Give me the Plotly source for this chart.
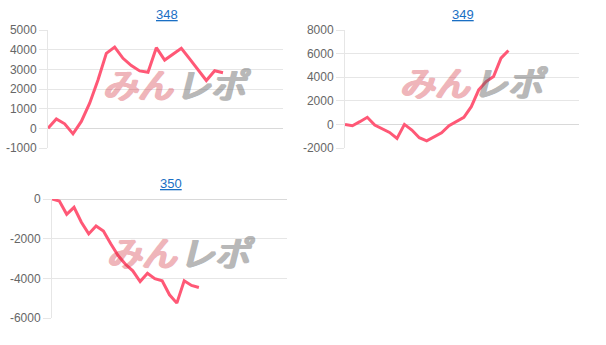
import plotly.graph_objects as go

W, H = 606, 345

titles = ["348", "349", "350"]

vals_348 = [0, 480, 230, -280, 350, 1280, 2460, 3810, 4130, 3560, 3190, 2920, 2850,
            4100, 3470, 3760, 4070, 3530, 2970, 2430, 2930, 2830]
vals_349 = [0, -110, 230, 600, -60, -340, -680, -1190, 0, -480, -1130, -1390, -1050,
            -710, -110, 230, 600, 1500, 2920, 3630, 4050, 5610, 6260]
vals_350 = [0, -100, -770, -420, -1170, -1760, -1360, -1610, -2260, -2850, -3290,
            -3620, -4160, -3740, -4020, -4120, -4830, -5250, -4120, -4360, -4460]

y_ticks_348 = [-1000, 0, 1000, 2000, 3000, 4000, 5000]
y_ticks_349 = [-2000, 0, 2000, 4000, 6000, 8000]
y_ticks_350 = [-6000, -4000, -2000, 0]

LINE = "rgb(255,88,118)"
GRID = "#e6e6e6"
TICKC = "#666666"
FONT = "Liberation Sans, Arial, sans-serif"

# pixel boxes (left, right, top, bottom)
boxes = [(48, 283, 30, 148), (345, 579, 30, 148), (52, 287, 199, 318)]
xmax = [28.2, 31.5, 32.0]
series = [vals_348, vals_349, vals_350]
ticks = [y_ticks_348, y_ticks_349, y_ticks_350]

fig = go.Figure()
annotations = []
for i, (vals, tk, (l, r, t, b), xm, title) in enumerate(zip(series, ticks, boxes, xmax, titles)):
    n = "" if i == 0 else str(i + 1)
    fig.add_trace(go.Scatter(
        x=list(range(len(vals))), y=vals, mode="lines",
        line=dict(color=LINE, width=3), xaxis="x" + n, yaxis="y" + n,
        hoverinfo="skip", showlegend=False))
    xd = [l / W, r / W]
    yd = [1 - b / H, 1 - t / H]
    fig.layout["xaxis" + n] = dict(
        domain=xd, range=[0, xm], showticklabels=False, showgrid=False,
        zeroline=False, showline=False, ticks="", anchor="y" + n, fixedrange=True,
        automargin=False)
    fig.layout["yaxis" + n] = dict(
        domain=yd, range=[min(tk), max(tk)], tickvals=tk, ticktext=[str(v) for v in tk],
        showgrid=True, gridcolor=GRID, gridwidth=1, zeroline=True, zerolinecolor="#d9d9d9",
        zerolinewidth=1, showline=True, linecolor=GRID, linewidth=1, ticks="outside",
        ticklen=8, tickcolor=GRID, tickfont=dict(family=FONT, size=12, color=TICKC),
        anchor="x" + n, fixedrange=True, automargin=False)
    cx = (l + r) / 2
    annotations.append(dict(
        text="<u>" + title + "</u>", x=(cx + 1) / W, y=1 - (t - 16) / H,
        xref="paper", yref="paper", showarrow=False, xanchor="center", yanchor="middle",
        font=dict(family=FONT, size=13, color="#1a6fc4")))


def bold_shadow(c):
    return ", ".join(f"{dx}px {dy}px 0 {c}" for dx, dy in
                     [(1, 0), (2, 0), (-1, 0), (0, 1), (1, 1), (2, 1)])


PINK = "rgb(210,40,55)"
GREY = "rgb(100,100,100)"
# watermark positions (pixel centres)
wm = [(174, 82), (471, 81), (178, 250)]
for (wx, wy) in wm:
    annotations.append(dict(
        text="<i>みん</i>", x=(wx + 1) / W, y=1 - wy / H, xref="paper", yref="paper",
        showarrow=False, xanchor="right", yanchor="middle", opacity=0.34,
        font=dict(family="Noto Sans CJK JP", size=35, color=PINK,
                  shadow=bold_shadow(PINK))))
    annotations.append(dict(
        text="<i>レポ</i>", x=(wx - 1) / W, y=1 - wy / H, xref="paper", yref="paper",
        showarrow=False, xanchor="left", yanchor="middle", opacity=0.45,
        font=dict(family="Noto Sans CJK JP", size=35, color=GREY,
                  shadow=bold_shadow(GREY))))

fig.update_layout(
    width=W, height=H, margin=dict(l=0, r=0, t=0, b=0),
    paper_bgcolor="white", plot_bgcolor="white",
    annotations=annotations, showlegend=False)

fig.write_html("out.html", config={"displayModeBar": False})
